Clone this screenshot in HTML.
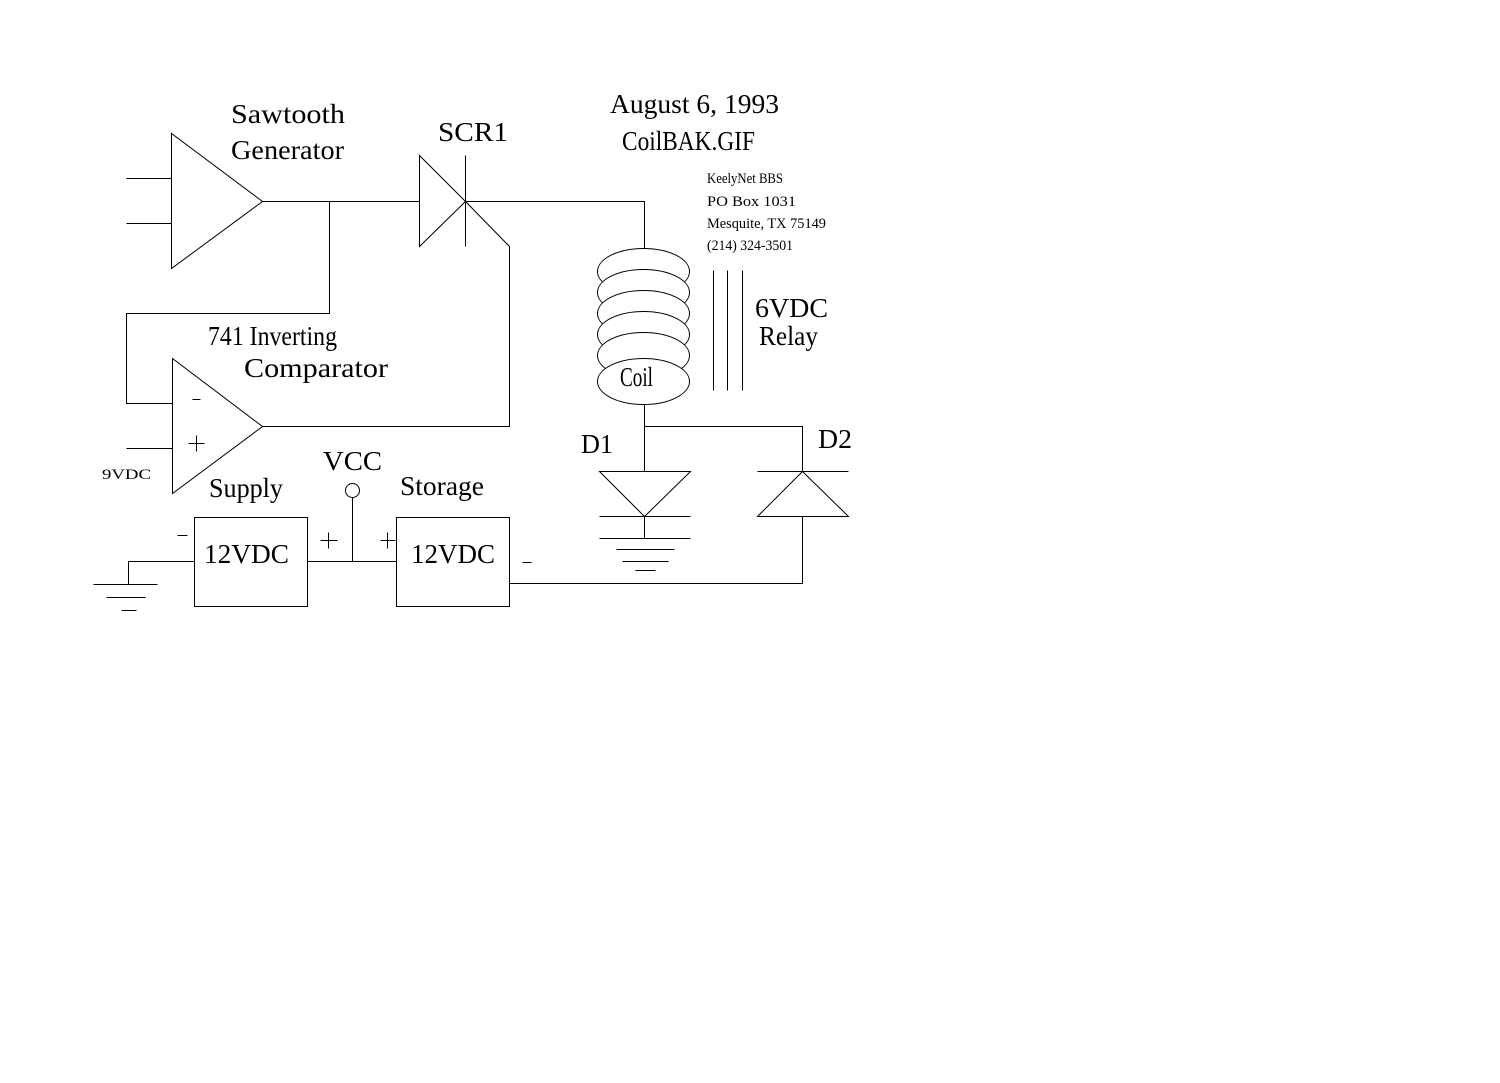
<!DOCTYPE html>
<html>
<head>
<meta charset="utf-8">
<style>
html,body{margin:0;padding:0;background:#fff;}
svg{display:block;}
text{font-family:"Liberation Serif",serif;fill:#000;}
</style>
</head>
<body>
<svg width="1500" height="1083" viewBox="0 0 1500 1083" xmlns="http://www.w3.org/2000/svg">
<rect x="0" y="0" width="1500" height="1083" fill="#fff"/>
<g stroke="#000" stroke-width="1" fill="none" transform="translate(0.5,0.5)">
  <!-- Sawtooth generator -->
  <polygon points="171,133 171,268 262,201" fill="#fff"/>
  <line x1="126" y1="178" x2="171" y2="178"/>
  <line x1="126" y1="223" x2="171" y2="223"/>
  <line x1="262" y1="201" x2="419" y2="201"/>
  <polyline points="329,201 329,313 126,313 126,403 172,403"/>
  <!-- SCR -->
  <polygon points="419,155 419,246 465,201"/>
  <line x1="465" y1="155" x2="465" y2="246"/>
  <polyline points="465,201 644,201 644,248"/>
  <polyline points="465,201 509,246 509,426 262,426"/>
  <!-- Comparator -->
  <polygon points="172,358 172,493 262,426" fill="#fff"/>
  <line x1="126" y1="448" x2="172" y2="448"/>
  <line x1="192" y1="399" x2="200" y2="399"/>
  <line x1="188" y1="443" x2="204" y2="443"/>
  <line x1="196" y1="435" x2="196" y2="451"/>
  <!-- VCC -->
  <circle cx="352" cy="490" r="7"/>
  <line x1="352" y1="497" x2="352" y2="561"/>
  <!-- Boxes -->
  <rect x="194" y="517" width="113" height="89"/>
  <rect x="396" y="517" width="113" height="89"/>
  <line x1="307" y1="561" x2="396" y2="561"/>
  <!-- plus/minus near boxes -->
  <line x1="320" y1="540" x2="337" y2="540"/>
  <line x1="328" y1="532" x2="328" y2="548"/>
  <line x1="380" y1="540" x2="395" y2="540"/>
  <line x1="387" y1="532" x2="387" y2="548"/>
  <line x1="177" y1="535" x2="187" y2="535"/>
  <line x1="522" y1="562" x2="531" y2="562"/>
  <!-- Left ground -->
  <polyline points="194,561 128,561 128,584"/>
  <line x1="93" y1="584" x2="157" y2="584"/>
  <line x1="106" y1="597" x2="145" y2="597"/>
  <line x1="121" y1="610" x2="136" y2="610"/>
  <!-- Storage to D2 -->
  <polyline points="509,583 802,583 802,516"/>
  <!-- D2 -->
  <polygon points="757,516 848,516 802,471"/>
  <line x1="757" y1="471" x2="848" y2="471"/>
  <polyline points="802,471 802,426 644,426"/>
  <!-- coil bottom / D1 -->
  <line x1="644" y1="404" x2="644" y2="471"/>
  <polygon points="599,471 690,471 644,516"/>
  <line x1="599" y1="516" x2="690" y2="516"/>
  <line x1="644" y1="516" x2="644" y2="538"/>
  <line x1="599" y1="538" x2="690" y2="538"/>
  <line x1="616" y1="549" x2="674" y2="549"/>
  <line x1="622" y1="561" x2="668" y2="561"/>
  <line x1="635" y1="570" x2="655" y2="570"/>
  <!-- Relay core -->
  <line x1="713" y1="270" x2="713" y2="390"/>
  <line x1="727" y1="270" x2="727" y2="390"/>
  <line x1="742" y1="270" x2="742" y2="390"/>
  <!-- Coil -->
  <ellipse cx="643" cy="271" rx="46" ry="23" fill="#fff"/>
  <ellipse cx="643" cy="292" rx="46" ry="23" fill="#fff"/>
  <ellipse cx="643" cy="313" rx="46" ry="23" fill="#fff"/>
  <ellipse cx="643" cy="334" rx="46" ry="23" fill="#fff"/>
  <ellipse cx="643" cy="355" rx="46" ry="23" fill="#fff"/>
  <ellipse cx="643" cy="381" rx="46" ry="23" fill="#fff"/>
</g>
<g font-size="27">
  <text x="231" y="123" textLength="114" lengthAdjust="spacingAndGlyphs">Sawtooth</text>
  <text x="231" y="159" textLength="113" lengthAdjust="spacingAndGlyphs">Generator</text>
  <text x="438" y="141" textLength="70" lengthAdjust="spacingAndGlyphs">SCR1</text>
  <text x="610" y="113" textLength="169" lengthAdjust="spacingAndGlyphs">August 6, 1993</text>
  <text x="622" y="150" textLength="133" lengthAdjust="spacingAndGlyphs">CoilBAK.GIF</text>
  <text x="755" y="317" textLength="73" lengthAdjust="spacingAndGlyphs">6VDC</text>
  <text x="759" y="345" textLength="59" lengthAdjust="spacingAndGlyphs">Relay</text>
  <text x="620" y="386" textLength="33" lengthAdjust="spacingAndGlyphs">Coil</text>
  <text x="208" y="345" textLength="129" lengthAdjust="spacingAndGlyphs">741 Inverting</text>
  <text x="244" y="377" textLength="144" lengthAdjust="spacingAndGlyphs">Comparator</text>
  <text x="209" y="497" textLength="74" lengthAdjust="spacingAndGlyphs">Supply</text>
  <text x="323" y="470" textLength="59" lengthAdjust="spacingAndGlyphs">VCC</text>
  <text x="400" y="495" textLength="84" lengthAdjust="spacingAndGlyphs">Storage</text>
  <text x="204" y="563" textLength="85" lengthAdjust="spacingAndGlyphs">12VDC</text>
  <text x="411" y="563" textLength="84" lengthAdjust="spacingAndGlyphs">12VDC</text>
  <text x="581" y="453" textLength="32" lengthAdjust="spacingAndGlyphs">D1</text>
  <text x="818" y="448" textLength="34" lengthAdjust="spacingAndGlyphs">D2</text>
</g>
<g font-size="15">
  <text x="707" y="183" textLength="76" lengthAdjust="spacingAndGlyphs">KeelyNet BBS</text>
  <text x="707" y="206" textLength="89" lengthAdjust="spacingAndGlyphs">PO Box 1031</text>
  <text x="707" y="228" textLength="119" lengthAdjust="spacingAndGlyphs">Mesquite, TX 75149</text>
  <text x="707" y="250" textLength="86" lengthAdjust="spacingAndGlyphs">(214) 324-3501</text>
  <text x="102" y="479" textLength="49" lengthAdjust="spacingAndGlyphs">9VDC</text>
</g>
</svg>
</body>
</html>
